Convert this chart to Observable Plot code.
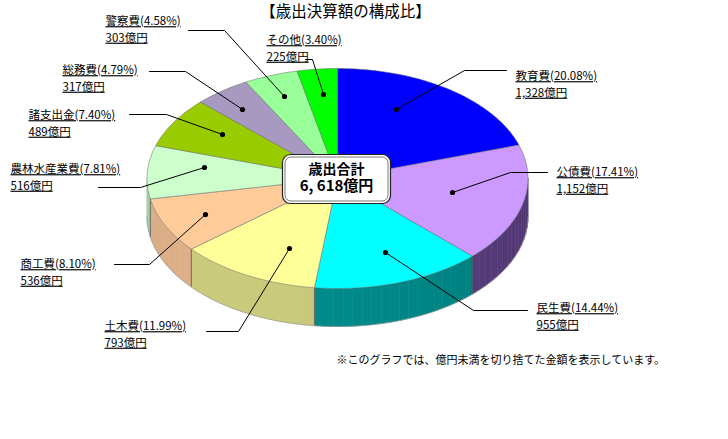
<!DOCTYPE html>
<html lang="ja">
<head>
<meta charset="utf-8">
<script src="https://cdn.jsdelivr.net/npm/d3@7"></script>
<script src="https://cdn.jsdelivr.net/npm/@observablehq/plot@0.6"></script>
<style>
html,body{margin:0;padding:0;background:#fff}
svg text.u, .u text{text-decoration:underline}
</style>
</head>
<body>
<div id="chart"></div>
<script>
// ---- data ----
const categories = ["教育費","公債費","民生費","土木費","商工費","農林水産業費","諸支出金","総務費","警察費","その他"];
const shares = [20.08,17.41,14.44,11.99,8.10,7.81,7.40,4.79,4.58,3.40];
const amounts = ["1,328","1,152","955","793","536","516","489","317","303","225"];
const titleText = "【歳出決算額の構成比】";
const noteText = "※このグラフでは、億円未満を切り捨てた金額を表示しています。";
const totalLines = ["歳出合計","6, 618億円"];

// ---- styles ----
const topColors = ["#0000ff","#cc99ff","#00ffff","#ffff99","#ffcc99","#ccffcc","#99cc00","#a899c0","#99ff99","#00ff00"];
const wallColors = ["#000080","#553a78","#007f7f","#b8b870","#c9a07c","#9fc09f","#668800","#706688","#66aa66","#00aa00"];

// ---- layout ----
const W = 728, H = 439;
const pie = {cx:337, cy:178, rx:190.5, ry:110, depth:38};
const labelPos = [[515,76],[556,172],[536,308],[104,326],[20,264],[10,169],[28,115],[62,70],[105,21],[266,40]];
const leaders = [
  [[396,109],[464,70],[506,70]],
  [[452,192],[510,172],[547,172]],
  [[385,252],[473,310],[527,310]],
  [[289,248],[238,331],[206,331]],
  [[205,214],[149,264],[114,264]],
  [[204,167],[140,187],[98,187]],
  [[222,134],[166,114],[129,114]],
  [[242,109],[185,71],[149,71]],
  [[284,96],[224,30],[188,30]],
  [[323,94],[312,59],[305,59]]
];

// ---- geometry derived from the shares ----
const total = d3.sum(shares);
const rad = d => d * Math.PI / 180;
const px = a => pie.cx + pie.rx * Math.sin(rad(a));
const py = a => pie.cy - pie.ry * Math.cos(rad(a));
let acc = 0;
const slices = shares.map((v,i) => {
  const start = acc / total * 360; acc += v;
  return {i, start, end: acc / total * 360};
});
const topPts = [], wallPts = [];
const shade = (c,a) => {
  // the side wall darkens slightly towards each slice's clockwise-most part of the front
  const k = 1 + 0.10 * Math.cos(rad(a - 215));
  const col = d3.rgb(c);
  return d3.rgb(col.r*k, col.g*k, col.b*k).formatHex();
};
for (const s of slices) {
  const n = Math.max(2, Math.ceil((s.end - s.start) / 1.5));
  topPts.push({k:s.i, x:pie.cx, y:pie.cy});
  for (let j=0;j<=n;j++) {
    const a = s.start + (s.end - s.start)*j/n;
    topPts.push({k:s.i, x:px(a), y:py(a)});
  }
  topPts.push({k:s.i, x:pie.cx, y:pie.cy});
  const a0 = Math.max(s.start,90), a1 = Math.min(s.end,270);
  if (a1 > a0) {
    const m = Math.ceil((a1-a0)/3);
    for (let j=0;j<m;j++) {
      const u = a0+(a1-a0)*j/m, v = a0+(a1-a0)*(j+1)/m;
      const fill = shade(wallColors[s.i], (u+v)/2), key = `${s.i}-${j}`;
      for (const [x,y] of [[px(u),py(u)],[px(v),py(v)],[px(v),py(v)+pie.depth],[px(u),py(u)+pie.depth],[px(u),py(u)]])
        wallPts.push({k:key,x,y,fill});
    }
  }
}
const wallEdges = slices.flatMap(s => s.start>=90 && s.start<=270
  ? [{a:s.start}] : []).map(d => ({x:px(d.a), y1:py(d.a), y2:py(d.a)+pie.depth}));
const wallOutline = d3.range(90,270.5,2).map(a => ({x:px(a),y:py(a)+pie.depth}));

const leaderPts = leaders.flatMap((l,i)=>l.map(([x,y])=>({k:i,x,y})));
const dots = leaders.map(l=>({x:l[0][0],y:l[0][1]}));
const line1 = categories.map((c,i)=>({x:labelPos[i][0],y:labelPos[i][1],t:`${c}(${shares[i].toFixed(2)}%)`}));
const line2 = categories.map((c,i)=>({x:labelPos[i][0],y:labelPos[i][1]+16.5,t:`${amounts[i]}億円`}));
const box = [{x1:282.5,x2:390.5,y1:154.5,y2:203.5}];
const box2 = [{x1:285,x2:388,y1:157,y2:201}];

const F = '"Noto Sans CJK JP", sans-serif';
const chart = Plot.plot({
  width:W, height:H, margin:0,
  x:{domain:[0,W],range:[0,W],axis:null},
  y:{domain:[0,H],range:[0,H],axis:null},
  style:{background:"#fff",fontFamily:F},
  marks:[
    Plot.line(wallPts,{x:"x",y:"y",z:"k",fill:"fill",stroke:"fill",strokeWidth:0.6,curve:"linear"}),
    Plot.ruleX(wallEdges,{x:"x",y1:"y1",y2:"y2",stroke:"#555",strokeWidth:0.8}),
    Plot.line(wallOutline,{x:"x",y:"y",stroke:"#999",strokeWidth:0.7}),
    ...slices.map(s => Plot.line(topPts.filter(p=>p.k===s.i),{x:"x",y:"y",fill:topColors[s.i],stroke:"#666",strokeWidth:0.5,curve:"linear"})),
    Plot.line(leaderPts,{x:"x",y:"y",z:"k",stroke:"#000",strokeWidth:1,curve:"linear"}),
    Plot.dot(dots,{x:"x",y:"y",r:2.6,fill:"#000"}),
    Plot.rect(box,{x1:"x1",x2:"x2",y1:"y1",y2:"y2",fill:"#fff",stroke:"#222",strokeWidth:1.2,rx:8,ry:8}),
    Plot.rect(box2,{x1:"x1",x2:"x2",y1:"y1",y2:"y2",fill:"#fff",stroke:"#555",strokeWidth:0.8,rx:6,ry:6}),
    Plot.text([totalLines[0]],{x:()=>336,y:()=>169,text:d=>d,fontSize:14,fontWeight:700,fill:"#000"}),
    Plot.text([totalLines[1]],{x:()=>336,y:()=>186,text:d=>d,fontSize:15,fontWeight:700,fill:"#000"}),
    Plot.text([titleText],{x:()=>345,y:()=>12,text:d=>d,fontSize:15.5,fill:"#000"}),
    Plot.text([noteText],{x:()=>336,y:()=>360,text:d=>d,fontSize:11,textAnchor:"start",fill:"#000"}),
    Plot.text(line1,{x:"x",y:"y",text:"t",fontSize:11.5,textAnchor:"start",fill:"#000",className:"u"}),
    Plot.text(line2,{x:"x",y:"y",text:"t",fontSize:11.5,textAnchor:"start",fill:"#000",className:"u"})
  ]
});
document.getElementById("chart").appendChild(chart);
</script>
</body>
</html>
